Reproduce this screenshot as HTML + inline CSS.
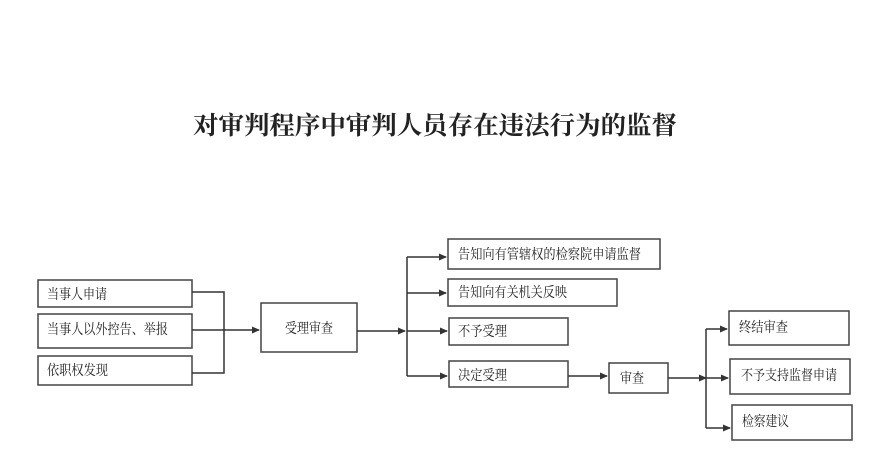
<!DOCTYPE html>
<html><head><meta charset="utf-8"><style>
html,body{margin:0;padding:0;background:#fff;width:887px;height:465px;overflow:hidden}
svg{display:block}
text{font-family:"Liberation Serif","Noto Serif CJK SC",serif;fill:#222}
</style></head><body>
<svg width="887" height="465" viewBox="0 0 887 465" xmlns="http://www.w3.org/2000/svg">
<defs><marker id="a" markerWidth="8" markerHeight="8" refX="7" refY="4" orient="auto" markerUnits="userSpaceOnUse"><path d="M0,0.5 L8,4 L0,7.5 Z" fill="#333"/></marker></defs>
<text x="193" y="134" font-size="25" font-weight="bold" textLength="484" lengthAdjust="spacingAndGlyphs" style="font-family:'Noto Serif CJK SC',serif" fill="#333">对审判程序中审判人员存在违法行为的监督</text>
<g fill="none" stroke="#444" stroke-width="1.5">
<rect x="38" y="280" width="154" height="27"/>
<rect x="38" y="314" width="154" height="34"/>
<rect x="38" y="356" width="154" height="29"/>
<rect x="261" y="303" width="96" height="49"/>
<rect x="448" y="239" width="212" height="30"/>
<rect x="448" y="279" width="169" height="27"/>
<rect x="449" y="318" width="119" height="27"/>
<rect x="449" y="361" width="119" height="26"/>
<rect x="609" y="363" width="59" height="30"/>
<rect x="729" y="311" width="120" height="34"/>
<rect x="730" y="359" width="120" height="35"/>
<rect x="732" y="405" width="120" height="35"/>
</g>
<g fill="none" stroke="#333" stroke-width="1.5">
<polyline points="192,292 224,292 224,373 192,373"/>
<line x1="192" y1="330" x2="259" y2="330" marker-end="url(#a)"/>
<line x1="357" y1="331" x2="405" y2="331" marker-end="url(#a)"/>
<line x1="407" y1="257" x2="407" y2="376"/>
<line x1="407" y1="257" x2="446" y2="257" marker-end="url(#a)"/>
<line x1="407" y1="293" x2="446" y2="293" marker-end="url(#a)"/>
<line x1="407" y1="331" x2="447" y2="331" marker-end="url(#a)"/>
<line x1="407" y1="376" x2="447" y2="376" marker-end="url(#a)"/>
<line x1="568" y1="376" x2="607" y2="376" marker-end="url(#a)"/>
<line x1="668" y1="378" x2="706" y2="378" marker-end="url(#a)"/>
<line x1="706" y1="329" x2="706" y2="428"/>
<line x1="706" y1="329" x2="727" y2="329" marker-end="url(#a)"/>
<line x1="706" y1="378" x2="728" y2="378" marker-end="url(#a)"/>
<line x1="706" y1="428" x2="730" y2="428" marker-end="url(#a)"/>
</g>
<g font-size="14" lengthAdjust="spacingAndGlyphs">
<text x="47" y="299" textLength="60" lengthAdjust="spacingAndGlyphs">当事人申请</text>
<text x="47" y="334" textLength="121" lengthAdjust="spacingAndGlyphs">当事人以外控告、举报</text>
<text x="47" y="375" textLength="61" lengthAdjust="spacingAndGlyphs">依职权发现</text>
<text x="285" y="333" textLength="48" lengthAdjust="spacingAndGlyphs">受理审查</text>
<text x="458" y="259" textLength="183" lengthAdjust="spacingAndGlyphs">告知向有管辖权的检察院申请监督</text>
<text x="458" y="297" textLength="109" lengthAdjust="spacingAndGlyphs">告知向有关机关反映</text>
<text x="458" y="336" textLength="49" lengthAdjust="spacingAndGlyphs">不予受理</text>
<text x="458" y="380" textLength="49" lengthAdjust="spacingAndGlyphs">决定受理</text>
<text x="620" y="383" textLength="24" lengthAdjust="spacingAndGlyphs">审查</text>
<text x="739" y="332" textLength="49" lengthAdjust="spacingAndGlyphs">终结审查</text>
<text x="741" y="380" textLength="96" lengthAdjust="spacingAndGlyphs">不予支持监督申请</text>
<text x="742" y="426" textLength="47" lengthAdjust="spacingAndGlyphs">检察建议</text>
</g>
</svg>
</body></html>
